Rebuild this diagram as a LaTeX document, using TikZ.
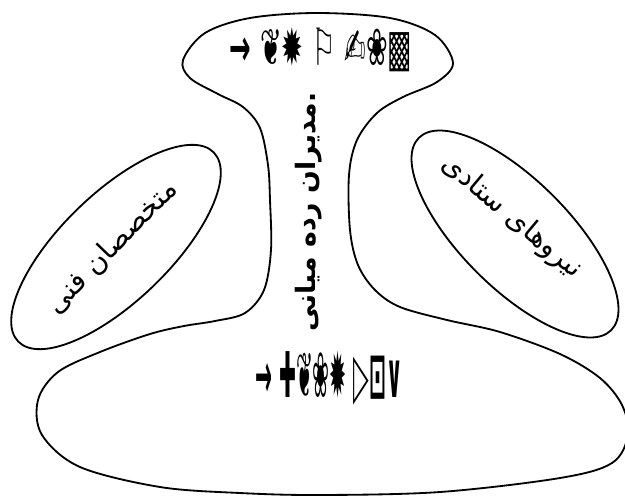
\documentclass[tikz,border=0pt]{standalone}
\usepackage{fontspec}
\newfontfamily\arabicfont[Script=Arabic]{DejaVu Sans}
\newfontfamily\symfont{DejaVu Sans}
\TeXXeTstate=1
\usetikzlibrary{positioning}

\begin{document}
\begin{tikzpicture}[x=0.025cm, y=-0.025cm,
    blob/.style={draw=black, line width=1.3pt},
    fatext/.style={font=\arabicfont\fontsize{20}{22}\selectfont, inner sep=0pt},
    fabold/.style={font=\arabicfont\bfseries\fontsize{19}{22}\selectfont, inner sep=0pt},
    glyphs/.style={font=\symfont\bfseries\fontsize{27}{30}\selectfont, inner sep=0pt}
  ]
  \useasboundingbox (0,0) rectangle (625,496);

  % outer outline: apex, middle line and operating core
  \draw[blob] plot[smooth cycle, tension=0.55] coordinates {
    (317,13) (390,18) (435,35) (453,63) (437,82) (403,97) (377,113)
    (357,140) (349,175) (350,230) (358,265) (375,290) (400,307)
    (447,320) (500,332) (560,354) (600,378) (622,405) (628,435)
    (612,463) (560,478) (440,492) (320,495) (240,493) (160,487)
    (80,467) (42,435) (38,400) (58,372) (100,352) (150,334)
    (184,326) (215,321) (245,313) (264,290) (271,250) (270,200)
    (268,165) (260,128) (243,107) (218,94) (190,78) (183,60)
    (205,33) (250,18)};

  % side ellipses
  \draw[blob, rotate around={44:(116,247)}] (116,247) ellipse [x radius=136, y radius=54];
  \draw[blob, rotate around={-45:(515,234)}] (515,234) ellipse [x radius=136, y radius=54];

  % texts
  \node[glyphs] (apex) at (321,50) {\scalebox{0.68}[1.35]{→ ❦✹ ⚐ ✍❀▩}};
  \node[fabold, rotate=90] (middle) at (309,212) {\beginR .مدیران رده میانی\endR};
  \node[fatext, rotate=46] (techno) at (112,247) {\beginR متخصصان فنی\endR};
  \node[fatext, rotate=-40] (staff) at (512,217) {\beginR نیروهای ستادی\endR};
  \node[glyphs, font=\symfont\bfseries\fontsize{32}{34}\selectfont] (core) at (329,378) {\scalebox{0.45}[1.4]{→ ✚❦❀✹ ▷⊡∨}};
\end{tikzpicture}
\end{document}
